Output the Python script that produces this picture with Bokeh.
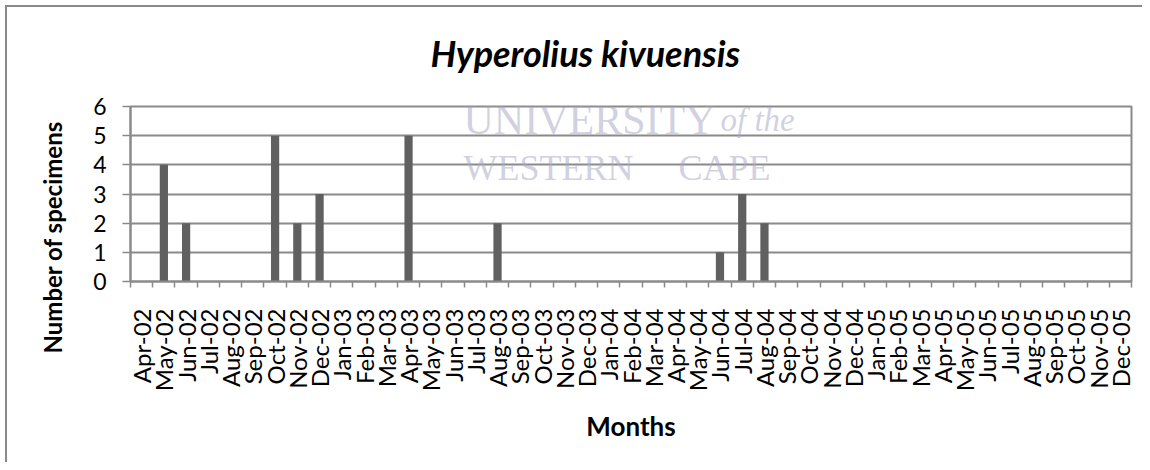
import numpy as np
from bokeh.plotting import figure
from bokeh.models import Range1d, FixedTicker, Label, Title
from bokeh.embed import file_html
from bokeh.resources import INLINE

# ---- data ----
months = ["Apr-02", "May-02", "Jun-02", "Jul-02", "Aug-02", "Sep-02", "Oct-02", "Nov-02", "Dec-02",
          "Jan-03", "Feb-03", "Mar-03", "Apr-03", "May-03", "Jun-03", "Jul-03", "Aug-03", "Sep-03",
          "Oct-03", "Nov-03", "Dec-03", "Jan-04", "Feb-04", "Mar-04", "Apr-04", "May-04", "Jun-04",
          "Jul-04", "Aug-04", "Sep-04", "Oct-04", "Nov-04", "Dec-04", "Jan-05", "Feb-05", "Mar-05",
          "Apr-05", "May-05", "Jun-05", "Jul-05", "Aug-05", "Sep-05", "Oct-05", "Nov-05", "Dec-05"]
specimens = [0, 4, 2, 0, 0, 0, 5, 2, 3,
             0, 0, 0, 5, 0, 0, 0, 2, 0,
             0, 0, 0, 0, 0, 0, 0, 0, 1,
             3, 2, 0, 0, 0, 0, 0, 0, 0,
             0, 0, 0, 0, 0, 0, 0, 0, 0]
y_ticks = [0, 1, 2, 3, 4, 5, 6]
title_text = "Hyperolius kivuensis"
x_title = "Months"
y_title = "Number of specimens"

GRAY = "#8a8a8a"
BAR = "#606060"
FONT = "Lato"

n = len(months)
centers = (np.arange(n) + 0.5).tolist()
bounds = list(range(n + 1))

p = figure(width=1142, height=462, output_backend="svg", toolbar_location=None,
           x_range=Range1d(0, n), y_range=Range1d(0, 6),
           min_border_left=130, min_border_right=11, min_border_top=105, min_border_bottom=181)

p.vbar(x=centers, top=specimens, width=0.37, fill_color=BAR, line_color=None)

# chart title
p.title.text = title_text
p.title.align = "left"
p.title.vertical_align = "top"
p.title.offset = 300
p.title.standoff = 60
p.title.text_font = FONT
p.title.text_font_size = "36px"
p.title.text_font_style = "bold italic"
p.title.text_color = "black"

# y-axis title (lowered like the original)
p.add_layout(Title(text=y_title, align="left", offset=-72, standoff=47,
                   text_font=FONT, text_font_size="24px", text_font_style="bold",
                   text_color="black"), "left")

p.outline_line_color = GRAY
p.outline_line_width = 2
p.background_fill_color = "white"
p.border_fill_color = None
p.styles = {
    "background-color": "white",
    "background-image": "linear-gradient(#8a8a8a, #8a8a8a), linear-gradient(#8a8a8a, #8a8a8a)",
    "background-position": "5px 5px, 5px 5px",
    "background-size": "2px 2000px, 3000px 2px",
    "background-repeat": "no-repeat, no-repeat",
}

# x axis
xa = p.xaxis[0]
xa.ticker = FixedTicker(ticks=centers, minor_ticks=bounds)
xa.major_label_overrides = {c: m for c, m in zip(centers, months)}
xa.major_label_orientation = np.pi / 2
xa.major_tick_line_color = None
xa.major_tick_out = 6
xa.major_tick_in = 0
xa.minor_tick_line_color = GRAY
xa.minor_tick_line_width = 1.5
xa.minor_tick_out = 6
xa.minor_tick_in = 0
xa.axis_line_color = GRAY
xa.axis_line_width = 2
xa.major_label_standoff = 21
xa.major_label_text_font = FONT
xa.major_label_text_font_size = "24px"
xa.major_label_text_color = "black"
xa.axis_label = x_title
xa.axis_label_text_font = FONT
xa.axis_label_text_font_size = "26px"
xa.axis_label_text_font_style = "bold"
xa.axis_label_text_color = "black"
xa.axis_label_standoff = 16

# y axis
ya = p.yaxis[0]
ya.ticker = FixedTicker(ticks=y_ticks)
ya.major_tick_line_color = GRAY
ya.major_tick_line_width = 1.5
ya.major_tick_out = 8
ya.major_tick_in = 0
ya.minor_tick_line_color = None
ya.axis_line_color = GRAY
ya.axis_line_width = 2
ya.major_label_standoff = 16
ya.major_label_text_font = FONT
ya.major_label_text_font_size = "23px"
ya.major_label_text_color = "black"

p.xgrid.visible = False
p.ygrid.ticker = FixedTicker(ticks=y_ticks)
p.ygrid.grid_line_color = GRAY
p.ygrid.grid_line_width = 2

# watermark (faint)
wm = dict(x_units="screen", y_units="screen", text_color="#a9a9c8", text_alpha=0.55,
          text_font="Liberation Serif", text_baseline="alphabetic")
p.add_layout(Label(x=333, y=162, text="UNIVERSITY", text_font_size="42px", **wm))
p.add_layout(Label(x=590, y=162, text="of the", text_font_style="italic",
                   text_font_size="33px", **wm))
p.add_layout(Label(x=333, y=114, text="WESTERN", text_font_size="36px", **wm))
p.add_layout(Label(x=548, y=114, text="CAPE", text_font_size="36px", **wm))

open("out.html", "w").write(file_html(p, INLINE))
